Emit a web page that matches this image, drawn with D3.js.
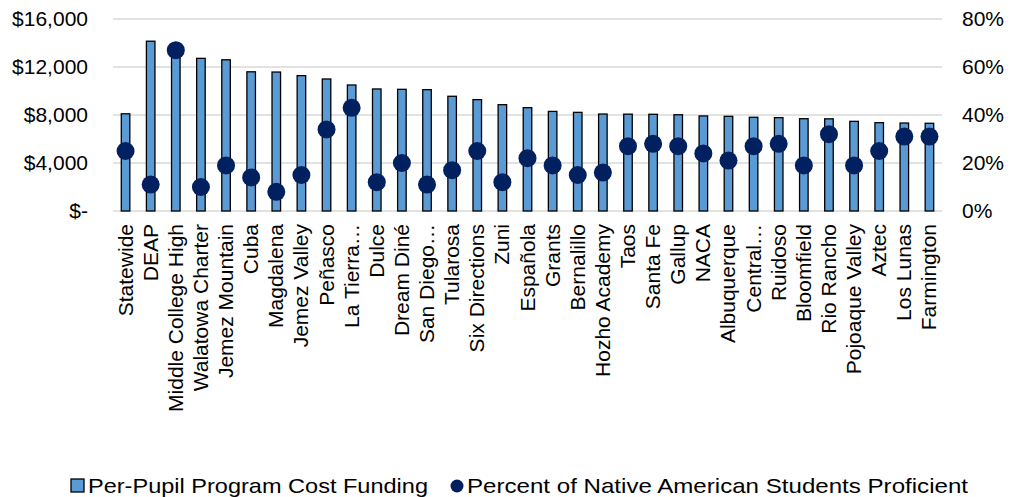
<!DOCTYPE html>
<html><head><meta charset="utf-8">
<script src="https://cdn.jsdelivr.net/npm/d3@7"></script>
<style>body{margin:0;background:#fff;} text{font-family:"Liberation Sans",Arial,sans-serif;fill:#000;}</style>
</head><body><svg id="c" width="1024" height="497"></svg>
<script>
const categories = ["Statewide","DEAP","Middle College High","Walatowa Charter","Jemez Mountain","Cuba","Magdalena","Jemez Valley","Peñasco","La Tierra…","Dulce","Dream Diné","San Diego…","Tularosa","Six Directions","Zuni","Española","Grants","Bernalillo","Hozho Academy","Taos","Santa Fe","Gallup","NACA","Albuquerque","Central…","Ruidoso","Bloomfield","Rio Rancho","Pojoaque Valley","Aztec","Los Lunas","Farmington"];
const funding = [8100,14150,13500,12720,12600,11600,11580,11280,11000,10500,10170,10140,10110,9560,9280,8860,8610,8300,8220,8080,8070,8060,8020,7920,7890,7810,7780,7690,7680,7470,7360,7330,7310];
const proficient = [0.25,0.11,0.67,0.10,0.19,0.14,0.08,0.15,0.34,0.43,0.12,0.20,0.11,0.17,0.25,0.12,0.22,0.19,0.15,0.16,0.27,0.28,0.27,0.24,0.21,0.27,0.28,0.19,0.32,0.19,0.25,0.31,0.31];
const leftTicks = [0,4000,8000,12000,16000];
const rightTicks = [0,0.2,0.4,0.6,0.8];
const legendLabels = ["Per-Pupil Program Cost Funding","Percent of Native American Students Proficient"];

const svg = d3.select("#c");
const L=113,R=942,T=19,B=211;
const FF = "Liberation Sans, Arial, sans-serif";
const x = d3.scaleBand().domain(categories).range([L,R]).padding(0);
const yL = d3.scaleLinear().domain([0,16000]).range([B,T]);
const yR = d3.scaleLinear().domain([0,0.8]).range([B,T]);

// gridlines
svg.append("g").selectAll("line").data(leftTicks).join("line")
  .attr("x1",L).attr("x2",R).attr("y1",d=>yL(d)).attr("y2",d=>yL(d))
  .attr("stroke","#d9d9d9").attr("stroke-width",1.3);

// left axis
const fmtL = d => d===0 ? "$-" : "$"+d3.format(",")(d);
const gl = svg.append("g").attr("transform",`translate(${L},0)`)
  .call(d3.axisLeft(yL).tickValues(leftTicks).tickFormat(fmtL).tickSize(0).tickPadding(25));
gl.select(".domain").remove();
gl.selectAll("text").attr("font-size",21).attr("font-family",FF).attr("fill","#000");

const gr = svg.append("g").attr("transform",`translate(${R},0)`)
  .call(d3.axisRight(yR).tickValues(rightTicks).tickFormat(d3.format(".0%")).tickSize(0).tickPadding(20));
gr.select(".domain").remove();
gr.selectAll("text").attr("font-size",21).attr("font-family",FF).attr("fill","#000");

// bars
const bw = x.bandwidth()*0.34;
svg.append("g").selectAll("rect").data(categories).join("rect")
  .attr("x",(d,i)=>x(d)+x.bandwidth()/2-bw/2)
  .attr("y",(d,i)=>yL(funding[i]))
  .attr("width",bw)
  .attr("height",(d,i)=>B-yL(funding[i]))
  .attr("fill","#5B9BD5").attr("stroke","#000").attr("stroke-width",1.3);

// dots
svg.append("g").selectAll("circle").data(categories).join("circle")
  .attr("cx",d=>x(d)+x.bandwidth()/2)
  .attr("cy",(d,i)=>yR(proficient[i]))
  .attr("r",9).attr("fill","#002060");

// x labels
const gx = svg.append("g").attr("transform",`translate(0,${B})`)
  .call(d3.axisBottom(x).tickSize(0).tickPadding(0));
gx.select(".domain").remove();
gx.selectAll("text")
  .attr("font-size",21).attr("font-family",FF).attr("fill","#000")
  .attr("text-anchor","end").attr("dy",null)
  .attr("transform","translate(7,13) rotate(-90)")
  .attr("x",0).attr("y",0);

// legend
const lg = svg.append("g");
lg.append("rect").attr("x",71).attr("y",479).attr("width",13).attr("height",13)
  .attr("fill","#5B9BD5").attr("stroke","#000").attr("stroke-width",1.3);
lg.append("text").attr("x",88).attr("y",493).attr("font-size",21)
  .attr("textLength",340).attr("lengthAdjust","spacingAndGlyphs").text(legendLabels[0]);
lg.append("circle").attr("cx",457).attr("cy",486).attr("r",6.5).attr("fill","#002060");
lg.append("text").attr("x",467).attr("y",493).attr("font-size",21)
  .attr("textLength",501).attr("lengthAdjust","spacingAndGlyphs").text(legendLabels[1]);
</script></body></html>
